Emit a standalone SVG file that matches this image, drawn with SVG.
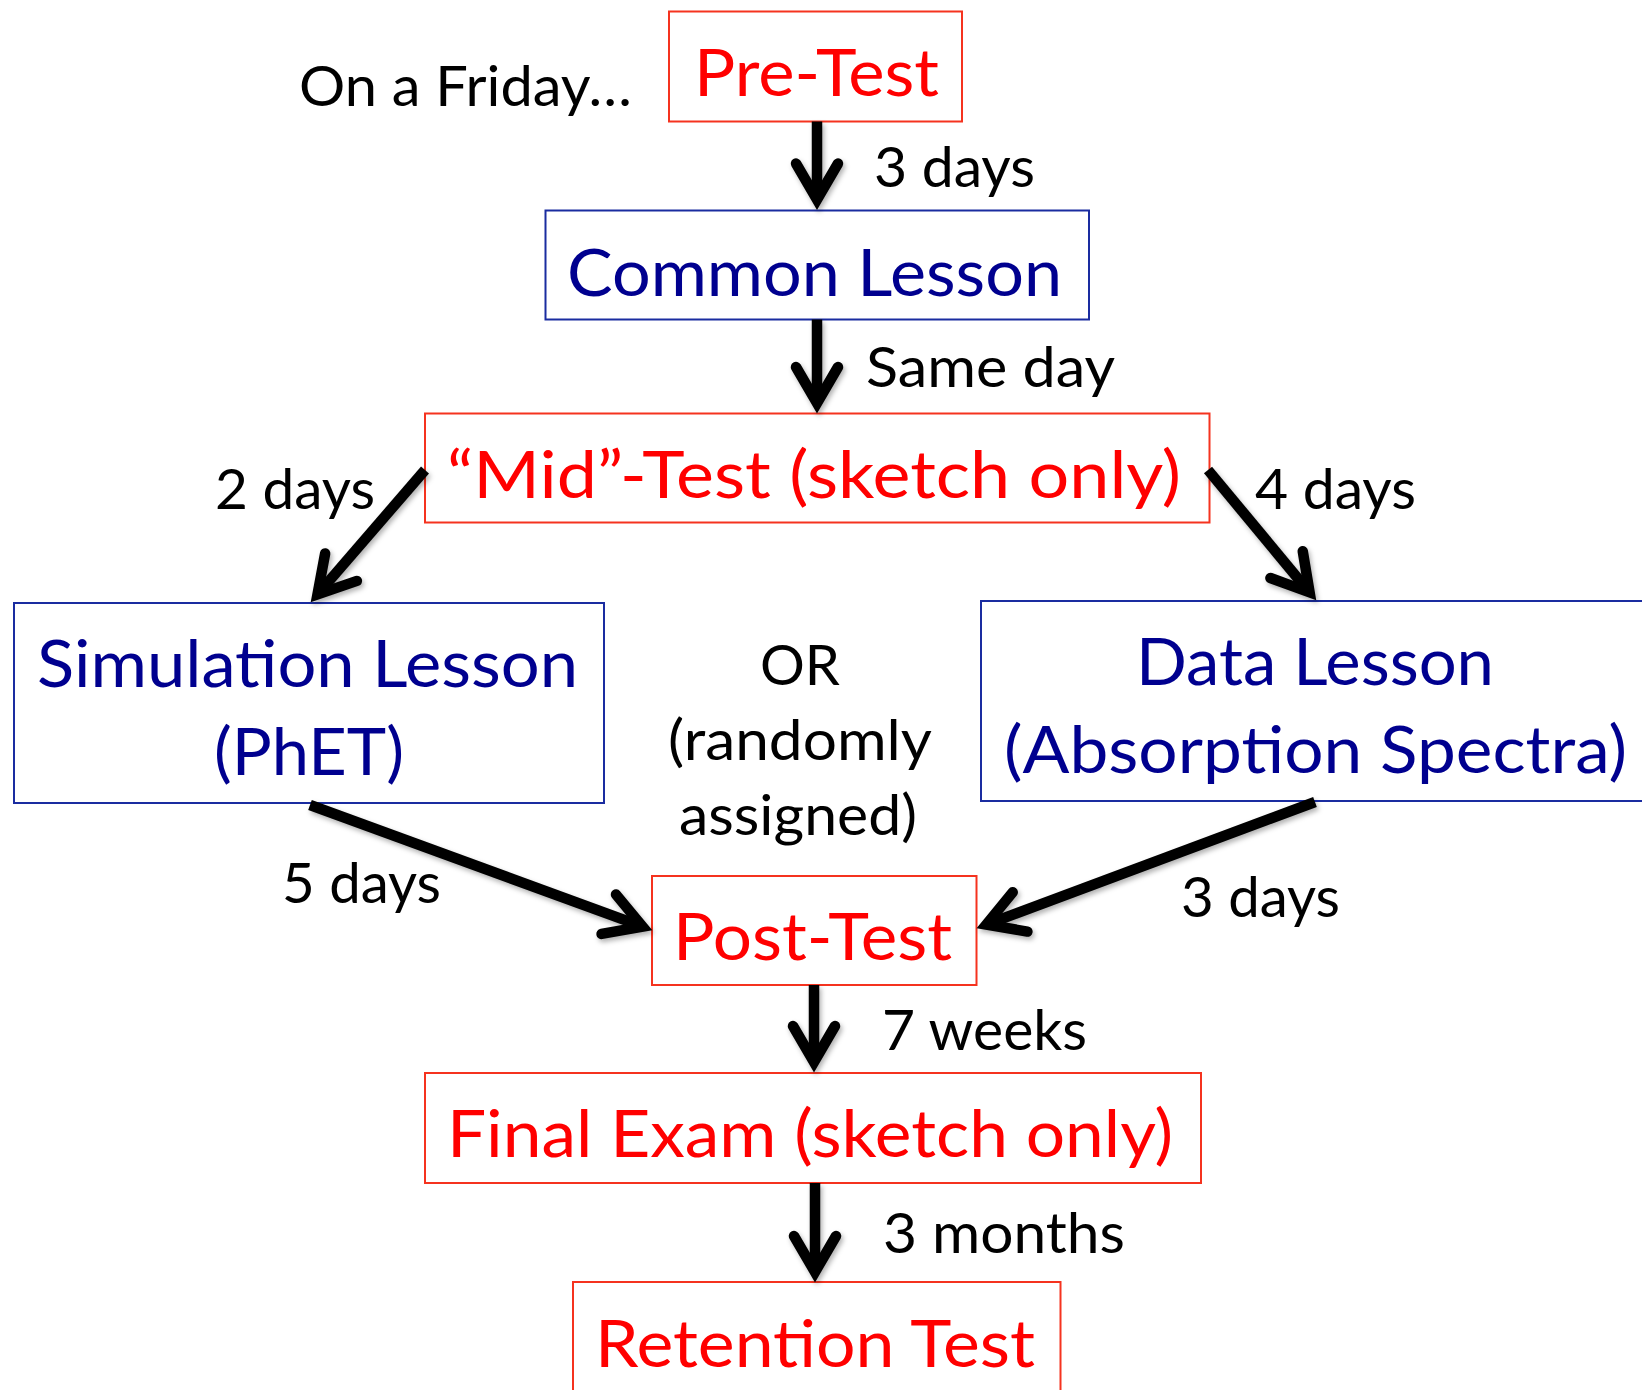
<svg xmlns="http://www.w3.org/2000/svg" width="1642" height="1390" viewBox="0 0 1642 1390">
<style>
.bg{fill:#ffffff}
.rbox{fill:#ffffff;stroke:#f5331f;stroke-width:2}
.bbox{fill:#ffffff;stroke:#1a2ca0;stroke-width:2}
.rt{font-family:Lato,"Open Sans","Liberation Sans",sans-serif;font-size:65px;fill:#ff0000}
.bt{font-family:Lato,"Open Sans","Liberation Sans",sans-serif;font-size:65px;fill:#00008f}
.lb{font-family:Lato,"Open Sans","Liberation Sans",sans-serif;font-size:56px;fill:#000000}
.arr{fill:none;stroke:#000000;stroke-width:10.5;stroke-linecap:butt}
</style>
<defs>
<marker id="ah" markerUnits="userSpaceOnUse" viewBox="-50 -40 70 80" markerWidth="70" markerHeight="80" refX="0" refY="0" orient="auto" overflow="visible">
<path d="M-34,-21 L2,0 L-34,21" fill="none" stroke="#000000" stroke-width="10.5" stroke-linecap="round" stroke-linejoin="miter"/>
</marker>
<filter id="sh" x="-20%" y="-20%" width="140%" height="140%">
<feDropShadow dx="2" dy="3" stdDeviation="2.5" flood-color="#000000" flood-opacity="0.3"/>
</filter>
</defs>
<rect class="bg" x="0" y="0" width="1642" height="1390"/>

<g id="node-pretest">
<rect class="rbox" x="669" y="11.5" width="293" height="110"/>
<text class="rt" x="694" y="96" textLength="245" lengthAdjust="spacingAndGlyphs">Pre-Test</text>
</g>
<g id="node-common">
<rect class="bbox" x="545.5" y="210.5" width="543.5" height="109"/>
<text class="bt" x="567" y="296" textLength="495" lengthAdjust="spacingAndGlyphs">Common Lesson</text>
</g>
<g id="node-midtest">
<rect class="rbox" x="425" y="413.5" width="784.5" height="109"/>
<text class="rt" x="447" y="498" textLength="734" lengthAdjust="spacingAndGlyphs">“Mid”-Test (sketch only)</text>
</g>
<g id="node-simulation">
<rect class="bbox" x="14" y="603" width="590" height="200"/>
<text class="bt" x="37" y="687" textLength="541" lengthAdjust="spacingAndGlyphs">Simulation Lesson</text>
<text class="bt" x="214" y="775" textLength="190" lengthAdjust="spacingAndGlyphs">(PhET)</text>
</g>
<g id="node-data">
<rect class="bbox" x="981" y="601" width="720" height="200"/>
<text class="bt" x="1136" y="685" textLength="358" lengthAdjust="spacingAndGlyphs">Data Lesson</text>
<text class="bt" x="1004" y="773" textLength="623" lengthAdjust="spacingAndGlyphs">(Absorption Spectra)</text>
</g>
<g id="node-posttest">
<rect class="rbox" x="652" y="876" width="324.5" height="109"/>
<text class="rt" x="673" y="960" textLength="279" lengthAdjust="spacingAndGlyphs">Post-Test</text>
</g>
<g id="node-final">
<rect class="rbox" x="425" y="1073" width="776" height="110"/>
<text class="rt" x="447" y="1157" textLength="726" lengthAdjust="spacingAndGlyphs">Final Exam (sketch only)</text>
</g>
<g id="node-retention">
<rect class="rbox" x="573" y="1282" width="487.5" height="150"/>
<text class="rt" x="595" y="1367" textLength="440" lengthAdjust="spacingAndGlyphs">Retention Test</text>
</g>

<g id="connectors" filter="url(#sh)">
<path class="arr" d="M817,121.5 V197.5" marker-end="url(#ah)"/>
<path class="arr" d="M817,319.5 V401" marker-end="url(#ah)"/>
<path class="arr" d="M425,470 L318.8,592.9" marker-end="url(#ah)"/>
<path class="arr" d="M1208,470 L1308.3,590.8" marker-end="url(#ah)"/>
<path class="arr" d="M310,805 L640.7,925.9" marker-end="url(#ah)"/>
<path class="arr" d="M1315,802 L988.2,923.8" marker-end="url(#ah)"/>
<path class="arr" d="M814,985 V1060" marker-end="url(#ah)"/>
<path class="arr" d="M815,1183 V1270" marker-end="url(#ah)"/>
</g>

<g id="labels">
<text class="lb" x="299" y="106" textLength="333" lengthAdjust="spacingAndGlyphs">On a Friday…</text>
<text class="lb" x="874" y="187" textLength="161" lengthAdjust="spacingAndGlyphs">3 days</text>
<text class="lb" x="866" y="387" textLength="249" lengthAdjust="spacingAndGlyphs">Same day</text>
<text class="lb" x="215" y="509" textLength="160" lengthAdjust="spacingAndGlyphs">2 days</text>
<text class="lb" x="1255" y="509" textLength="161" lengthAdjust="spacingAndGlyphs">4 days</text>
<text class="lb" x="800" y="685" text-anchor="middle">OR</text>
<text class="lb" x="668" y="760" textLength="264" lengthAdjust="spacingAndGlyphs">(randomly</text>
<text class="lb" x="679" y="835" textLength="238" lengthAdjust="spacingAndGlyphs">assigned)</text>
<text class="lb" x="282" y="903" textLength="159" lengthAdjust="spacingAndGlyphs">5 days</text>
<text class="lb" x="1181" y="917" textLength="159" lengthAdjust="spacingAndGlyphs">3 days</text>
<text class="lb" x="882" y="1050" textLength="205" lengthAdjust="spacingAndGlyphs">7 weeks</text>
<text class="lb" x="883" y="1253" textLength="242" lengthAdjust="spacingAndGlyphs">3 months</text>
</g>
</svg>
